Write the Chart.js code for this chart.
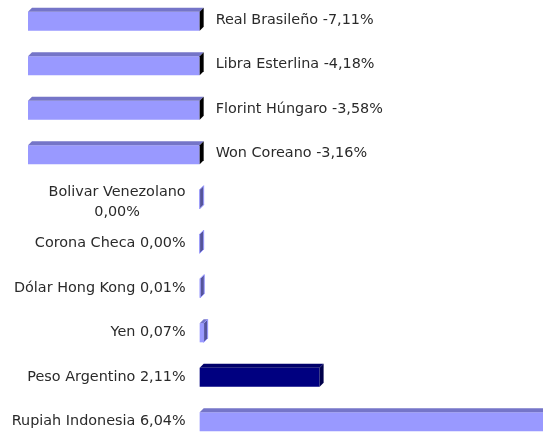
<!DOCTYPE html>
<html>
<head>
<meta charset="utf-8">
<script src="https://cdn.jsdelivr.net/npm/chart.js@4"></script>
<style>
  html, body { margin: 0; padding: 0; background: #fff; overflow: hidden; }
  #wrap { position: absolute; left: 0; top: -1px; width: 543px; height: 445px; }
</style>
</head>
<body>
<div id="wrap"><canvas id="chart"></canvas></div>
<script>
const currencies = [
  "Real Brasileño",
  "Libra Esterlina",
  "Florint Húngaro",
  "Won Coreano",
  "Bolivar Venezolano",
  "Corona Checa",
  "Dólar Hong Kong",
  "Yen",
  "Peso Argentino",
  "Rupiah Indonesia",
];
const changes = [-7.11, -4.18, -3.58, -3.16, 0.0, 0.0, 0.01, 0.07, 2.11, 6.04];
const highlight = "Peso Argentino";

const fmt = (v) => v.toFixed(2).replace(".", ",") + "%";

const front = currencies.map((c) => (c === highlight ? "#000080" : "#9999ff"));
const topFace = currencies.map((c) => (c === highlight ? "#00006a" : "#7575c8"));
const sideFace = changes.map((v, i) =>
  currencies[i] === highlight ? "#00004a" : v < 0 ? "#000000" : "#55559a"
);

const depth = 4;

const bars3d = {
  id: "bars3d",
  afterDatasetsDraw(chart) {
    const { ctx, chartArea } = chart;
    const meta = chart.getDatasetMeta(0);
    ctx.save();
    meta.data.forEach((el, i) => {
      const { x, y, base, height } = el.getProps(["x", "y", "base", "height"], true);
      const l = Math.max(Math.min(x, base), chartArea.left);
      const r = Math.min(Math.max(x, base), chartArea.right);
      const t = y - height / 2;
      const b = y + height / 2;
      // top face
      ctx.fillStyle = topFace[i];
      ctx.beginPath();
      ctx.moveTo(l, t);
      ctx.lineTo(l + depth, t - depth);
      ctx.lineTo(r + depth, t - depth);
      ctx.lineTo(r, t);
      ctx.closePath();
      ctx.fill();
      // side face
      ctx.fillStyle = sideFace[i];
      ctx.beginPath();
      ctx.moveTo(r, t);
      ctx.lineTo(r + depth, t - depth);
      ctx.lineTo(r + depth, b - depth);
      ctx.lineTo(r, b);
      ctx.closePath();
      ctx.fill();
      if (changes[i] >= 0 && changes[i] < 1) {
        ctx.strokeStyle = "#9999ff";
        ctx.lineWidth = 1;
        ctx.stroke();
      }
    });
    ctx.restore();
  },
};

const labels = {
  id: "labels",
  afterDatasetsDraw(chart) {
    const { ctx } = chart;
    const xs = chart.scales.x;
    const zero = xs.getPixelForValue(0);
    const meta = chart.getDatasetMeta(0);
    ctx.save();
    ctx.font = '14.4px "DejaVu Sans"';
    ctx.fillStyle = "#2a2a2a";
    ctx.textBaseline = "middle";
    meta.data.forEach((el, i) => {
      const v = changes[i];
      const text = currencies[i] + " " + fmt(v);
      const y = el.y - 1;
      if (v < 0) {
        ctx.textAlign = "left";
        ctx.fillText(text, zero + 16, y);
      } else {
        const maxW = 180;
        if (ctx.measureText(text).width > maxW) {
          const l1 = currencies[i];
          const l2 = fmt(v);
          const cx = zero - 14 - ctx.measureText(l1).width / 2;
          ctx.textAlign = "center";
          ctx.fillText(l1, cx, y - 6);
          ctx.fillText(l2, cx, y + 14);
        } else {
          ctx.textAlign = "right";
          ctx.fillText(text, zero - 14, y + 1);
        }
      }
    });
    ctx.restore();
  },
};

new Chart(document.getElementById("chart"), {
  type: "bar",
  data: {
    labels: currencies,
    datasets: [
      {
        data: changes,
        backgroundColor: front,
        borderWidth: 0,
        categoryPercentage: 1,
        barPercentage: 0.43,
        clip: 0,
      },
    ],
  },
  options: {
    indexAxis: "y",
    responsive: true,
    maintainAspectRatio: false,
    animation: false,
    layout: { padding: { left: 28, right: 0, top: 0, bottom: 0 } },
    plugins: {
      legend: { display: false },
      tooltip: { enabled: false },
    },
    scales: {
      x: { display: false, min: -3.02, max: 6.04 },
      y: { display: false },
    },
  },
  plugins: [bars3d, labels],
});
</script>
</body>
</html>
